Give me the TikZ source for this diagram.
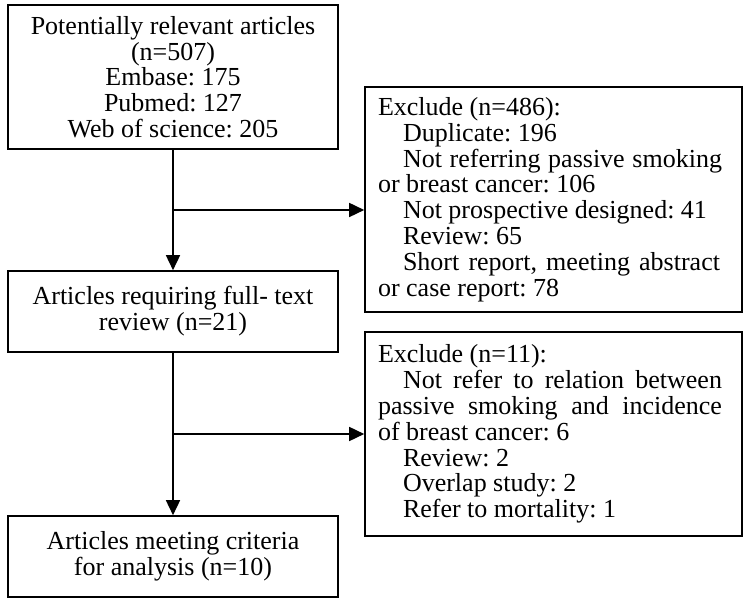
\documentclass[tikz,border=0pt]{standalone}
\usepackage{fontspec}
\setmainfont{Liberation Serif}
\usetikzlibrary{arrows.meta}
\begin{document}
\begin{tikzpicture}[x=1pt,y=1pt,
  txt/.style={font=\fontsize{26}{25.8}\selectfont,
    execute at begin node={\frenchspacing\spaceskip=0pt\xspaceskip=0pt\relax}},
  box/.style={draw, line width=1.6pt, txt, align=center, minimum width=330pt, inner sep=0pt},
  exbox/.style={draw, line width=1.6pt, txt, align=left, text width=351pt, inner xsep=13pt, inner ysep=0pt},
  conn/.style={line width=1.6pt},
  arr/.style={conn, -{Triangle[length=15pt,width=14pt]}}]
\useasboundingbox (0,0) rectangle (749,607);
\node[box, minimum height=144pt] (a) at (173,530) {Potentially relevant articles\\(n=507)\\Embase: 175\\Pubmed: 127\\Web of science: 205};
\node[box, minimum height=81pt] (b) at (173,295.5) {Articles requiring full- text\\review (n=21)};
\node[box, minimum height=81pt] (c) at (173,50.5) {Articles meeting criteria\\for analysis (n=10)};
\node[exbox, minimum height=225pt] (e1) at (553.5,407.5) {Exclude (n=486):\\
\hspace*{25pt}Duplicate: 196\\
\hspace*{25pt}\makebox[319pt][s]{Not referring passive smoking}\\
or breast cancer: 106\\
\hspace*{25pt}Not prospective designed: 41\\
\hspace*{25pt}Review: 65\\
\hspace*{25pt}\makebox[317pt][s]{Short report, meeting abstract}\\
or case report: 78};
\node[exbox, minimum height=204pt] (e2) at (553.5,173) {Exclude (n=11):\\
\hspace*{25pt}\makebox[319pt][s]{Not refer to relation between}\\
\makebox[344pt][s]{passive smoking and incidence}\\
of breast cancer: 6\\
\hspace*{25pt}Review: 2\\
\hspace*{25pt}Overlap study: 2\\
\hspace*{25pt}Refer to mortality: 1};
\coordinate (j1) at (a.south |- 0,397);
\coordinate (j2) at (b.south |- 0,173);
\draw[arr] (a.south) -- (b.north);
\draw[arr] (j1) -- (e1.west |- j1);
\draw[arr] (b.south) -- (c.north);
\draw[arr] (j2) -- (e2.west |- j2);
\end{tikzpicture}
\end{document}
